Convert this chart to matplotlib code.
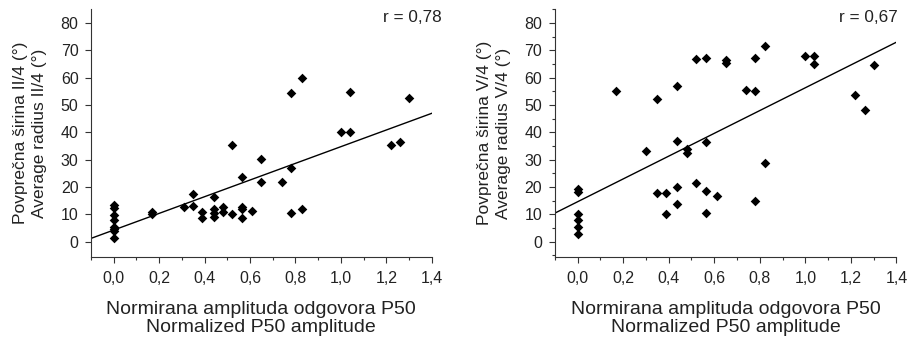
import matplotlib.pyplot as plt
from matplotlib.ticker import MultipleLocator, FuncFormatter

# Data
left_x = [0.0, 0.0, 0.0, 0.0, 0.0, 0.0, 0.0, 0.0,
          0.17, 0.17, 0.31, 0.35, 0.35, 0.39, 0.39,
          0.44, 0.44, 0.44, 0.44, 0.48, 0.48, 0.52, 0.52,
          0.565, 0.565, 0.565, 0.565, 0.61, 0.65, 0.65, 0.74,
          0.78, 0.78, 0.78, 0.83, 0.83, 1.0, 1.04, 1.04,
          1.22, 1.26, 1.30]
left_y = [13.4, 12.2, 9.8, 7.9, 5.5, 4.5, 4.0, 1.2,
          11.0, 10.2, 12.8, 17.4, 13.2, 11.0, 8.6,
          16.5, 11.9, 10.4, 8.9, 12.6, 11.0, 35.4, 10.1,
          23.8, 12.6, 11.9, 8.6, 11.4, 30.2, 21.9, 21.7,
          54.4, 27.1, 10.6, 59.8, 11.9, 40.1, 54.9, 40.1,
          35.4, 36.6, 52.4]
left_fit = (30.5, 4.25)  # slope, intercept
left_r = "r = 0,78"

right_x = [0.0, 0.0, 0.0, 0.0, 0.0, 0.0,
           0.17, 0.30, 0.35, 0.35, 0.39, 0.39,
           0.435, 0.435, 0.435, 0.435, 0.48, 0.48,
           0.52, 0.52, 0.565, 0.565, 0.565, 0.565,
           0.61, 0.65, 0.65, 0.74, 0.78, 0.78, 0.78,
           0.825, 0.825, 1.0, 1.04, 1.04, 1.22, 1.26, 1.30]
right_y = [19.3, 18.3, 10.0, 7.9, 5.5, 2.8,
           55.3, 33.3, 52.3, 17.7, 17.9, 10.1,
           57.1, 37.0, 19.9, 13.8, 34.0, 32.4,
           66.8, 21.4, 67.2, 36.4, 18.7, 10.6,
           16.7, 66.5, 65.3, 55.6, 67.2, 55.3, 14.9,
           71.4, 28.7, 67.8, 67.8, 65.0, 53.5, 48.2, 64.6]
right_fit = (41.7, 14.6)
right_r = "r = 0,67"

xlabel = "Normirana amplituda odgovora P50\nNormalized P50 amplitude"
left_ylabel = "Povprečna širina II/4 (°)\nAverage radius II/4 (°)"
right_ylabel = "Povprečna širina V/4 (°)\nAverage radius V/4 (°)"

plt.rcParams["font.family"] = ["Liberation Sans", "DejaVu Sans"]

fig = plt.figure(figsize=(9.11, 3.4), dpi=100)
ax1 = fig.add_axes([0.0999, 0.245, 0.374, 0.7276])
ax2 = fig.add_axes([0.609, 0.245, 0.375, 0.7276])

comma = FuncFormatter(lambda v, p: f"{v:.1f}".replace(".", ","))
txt = "#222222"

for ax, xs, ys, fit, r, rx, ylab, yminor in [
        (ax1, left_x, left_y, left_fit, left_r, 1.03, left_ylabel, False),
        (ax2, right_x, right_y, right_fit, right_r, 1.003, right_ylabel, True)]:
    ax.scatter(xs, ys, marker="D", s=24, color="black", zorder=3, linewidths=0)
    x0, x1 = -0.1, 1.4
    ax.plot([x0, x1], [fit[0] * x0 + fit[1], fit[0] * x1 + fit[1]],
            color="black", lw=1.0)
    ax.set_xlim(-0.1, 1.4)
    ax.set_ylim(-5.5, 85)
    ax.spines["top"].set_visible(False)
    ax.spines["right"].set_visible(False)
    ax.spines["left"].set_color("#333333")
    ax.spines["bottom"].set_color("#333333")
    ax.set_xticks([0, 0.2, 0.4, 0.6, 0.8, 1.0, 1.2, 1.4])
    ax.xaxis.set_minor_locator(MultipleLocator(0.1))
    ax.xaxis.set_major_formatter(comma)
    ax.set_yticks(range(0, 81, 10))
    if yminor:
        ax.yaxis.set_minor_locator(MultipleLocator(5))
    ax.tick_params(axis="both", which="major", length=4, width=0.8,
                   colors="#333333", labelcolor=txt, labelsize=11.5)
    ax.tick_params(axis="both", which="minor", length=2.5, width=0.8,
                   colors="#333333")
    ax.tick_params(axis="x", which="major", pad=6)
    ax.tick_params(axis="y", which="major", pad=5)
    ax.set_xlabel(xlabel, fontsize=14, color=txt, labelpad=11,
                  linespacing=1.1)
    ax.set_ylabel(ylab, fontsize=12.5, color=txt, labelpad=10,
                  linespacing=1.3)
    ax.text(rx, 0.965, r, transform=ax.transAxes, ha="right", va="center",
            fontsize=12.3, color=txt)

plt.savefig("out.png", dpi=100)
